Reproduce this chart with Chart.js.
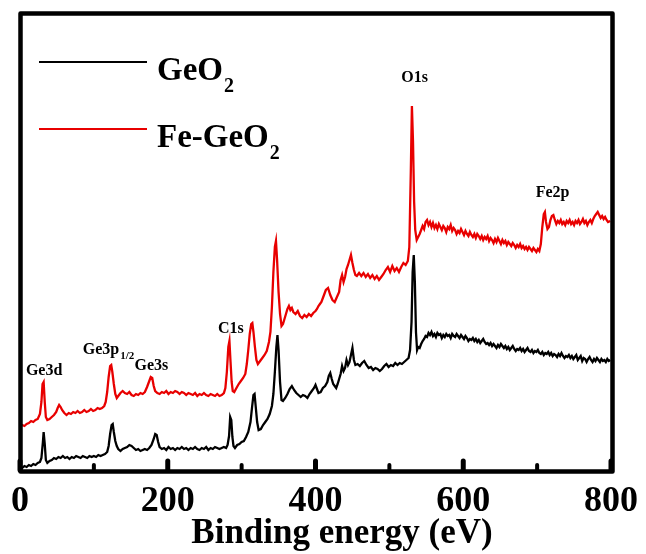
<!DOCTYPE html>
<html>
<head>
<meta charset="utf-8">
<script src="https://cdn.jsdelivr.net/npm/chart.js@4.4.0/dist/chart.umd.min.js"></script>
<style>
  html, body { margin: 0; padding: 0; background: #fff; }
  #wrap { width: 646px; height: 554px; position: relative; }
</style>
</head>
<body>
<div id="wrap"><canvas id="c" width="646" height="554"></canvas></div>
<script>
// ---- data: [binding energy (eV), intensity (a.u.)] ----
const geo2Spectrum = [
  [0,5],[3,4],[6,6],[9,5],[12,7],[15,6],[18,8],[21,7],[24,9],[27,10],[29,14],[31,30],[32,40],[33.5,28],[35,12],[37,9],
  [40,11],[43,12],[46,14],[49,13],[52,15],[55,14],[58,16],[61,14],[64,15],[67,13],[70,15],[73,14],[76,16],[79,15],[82,14],
  [85,16],[88,15],[91,14],[94,16],[97,15],[100,16],[103,15],[106,17],[109,16],[112,17],[115,18],[118,20],[120,26],[122,38],
  [124,47],[125.5,48],[127,40],[129,31],[131,26],[133,23],[136,21],[139,23],[142,24],[145,25],[148,27],[151,26],[154,24],
  [157,22],[160,23],[163,21],[166,22],[169,23],[172,22],[175,24],[178,27],[181,33],[183,38],[185,37],[187,30],[189,25],
  [192,23],[195,24],[198,22],[201,25],[204,23],[207,24],[210,22],[213,24],[216,23],[219,25],[222,23],[225,24],[228,22],
  [231,24],[234,23],[237,25],[240,23],[243,22],[246,24],[249,23],[252,25],[255,22],[258,24],[261,23],[264,25],[267,24],
  [270,23],[273,24],[276,25],[279,24],[281,27],[283,36],[284.5,55],[286,52],[287.5,35],[289,26],[291,24],[294,27],[297,28],
  [300,30],[303,31],[306,35],[309,40],[312,50],[314,64],[316,77],[317.5,78],[319,66],[321,50],[323,42],[326,43],[329,47],
  [332,50],[335,53],[338,58],[341,66],[343,78],[345,100],[347,125],[348.5,137],[350,122],[352,90],[354,72],[356,71],
  [359,74],[362,78],[365,83],[368,86],[371,82],[374,79],[377,77],[380,75],[383,77],[386,76],[389,74],[392,78],[395,81],
  [398,84],[400,87],[402,83],[404,79],[407,80],[410,84],[413,86],[416,90],[418,96],[420,99],[422,93],[424,88],[426,86],
  [428,84],[430,88],[432,93],[434,98],[436,106],[438,101],[440,104],[442,112],[444,107],[446,110],[448,117],[450,124],
  [452,112],[454,107],[457,108],[460,106],[463,109],[466,111],[469,107],[472,104],[475,105],[478,102],[481,104],[484,103],
  [487,101],[490,103],[493,106],[496,108],[499,105],[502,107],[505,106],[508,109],[511,107],[514,109],[517,108],[520,110],
  [523,112],[526,114],[528,122],[530,150],[531.5,200],[533,217],[534.5,190],[536,140],[537.5,122],[539,125],[541,124],
  [543,128],[545,131],[547,133],[549,136],[551,135],[553,139],[555,137],[557,140],[559,136],[561,138],[563,135],[565,139],
  [567,137],[569,138],[571,134],[573,137],[575,135],[577,138],[579,136],[581,137],[583,134],[585,138],[587,136],[589,135],
  [591,138],[593,136],[595,134],[597,137],[599,135],[601,133],[603,136],[605,134],[607,131],[609,133],[611,132],[613,134],
  [615,131],[617,133],[619,130],[621,132],[623,129],[625,131],[627,133],[629,130],[631,128],[633,129],[635,127],[637,129],
  [639,126],[641,128],[643,126],[645,124],[647,127],[649,125],[651,128],[653,126],[655,124],[657,126],[659,123],[661,125],
  [663,122],[665,124],[667,126],[669,123],[671,121],[673,123],[675,122],[677,124],[679,121],[681,123],[683,120],[685,122],
  [687,124],[689,121],[691,120],[693,122],[695,119],[697,121],[699,120],[701,122],[703,119],[705,118],[707,120],[709,117],
  [711,119],[713,118],[715,120],[717,117],[719,119],[721,116],[723,118],[725,117],[727,115],[729,118],[731,116],[733,119],
  [735,116],[737,114],[739,116],[741,115],[743,117],[745,114],[747,116],[749,113],[751,115],[753,117],[755,112],[757,114],
  [759,116],[761,111],[763,114],[765,113],[767,110],[769,113],[771,115],[773,112],[775,110],[777,113],[779,111],[781,114],
  [783,112],[785,110],[787,113],[789,111],[791,112],[793,110],[795,113],[797,111],[799,112]
];

const feGeo2Spectrum = [
  [0,45],[3,47],[6,46],[9,48],[12,49],[15,51],[18,50],[21,52],[24,53],[27,58],[29,70],[30.5,88],[32,90],[33.5,70],[35,55],
  [37,52],[40,53],[43,55],[46,57],[49,60],[51,64],[53,67],[55,65],[57,62],[60,59],[63,57],[66,59],[69,58],[72,60],[75,59],
  [78,61],[81,59],[84,60],[87,62],[90,60],[93,61],[96,63],[99,61],[102,62],[105,64],[108,63],[111,64],[114,66],[116,70],
  [118,80],[120,95],[122,106],[123.5,107],[125,100],[127,88],[129,78],[131,74],[133,76],[136,79],[139,81],[142,79],[145,78],
  [148,80],[151,77],[154,76],[157,78],[160,77],[163,79],[166,78],[169,80],[172,85],[175,91],[177,95],[179,94],[181,86],
  [183,81],[186,79],[189,78],[192,80],[195,79],[198,81],[201,78],[204,80],[207,79],[210,81],[213,80],[216,78],[219,80],
  [222,79],[225,77],[228,79],[231,78],[234,77],[237,79],[240,76],[243,78],[246,77],[249,79],[252,77],[255,76],[258,78],
  [261,77],[264,76],[267,78],[270,76],[273,77],[276,79],[278,84],[280,100],[282,125],[283.5,131],[285,110],[286.5,90],
  [288,81],[290,80],[293,84],[296,88],[299,91],[302,94],[305,98],[307,108],[309,122],[311,138],[313,148],[314.5,149],
  [316,140],[318,125],[320,112],[322,108],[325,111],[328,114],[331,117],[334,121],[337,130],[339,140],[341,165],[343,200],
  [345,225],[346.5,231],[348,212],[350,180],[352,158],[354,146],[356,148],[358,153],[360,158],[362,163],[364,166],[366,162],
  [368,164],[370,160],[373,158],[376,161],[379,156],[382,154],[385,157],[388,155],[391,158],[394,156],[397,159],[400,161],
  [402,163],[404,166],[406,168],[408,170],[411,176],[414,182],[417,184],[420,177],[423,172],[426,170],[429,175],[432,180],
  [434,192],[436,197],[438,190],[440,195],[442,203],[444,207],[446,212],[448,217],[450,209],[452,202],[454,197],[456,196],
  [459,199],[462,196],[465,199],[468,195],[471,198],[474,194],[477,197],[480,193],[483,196],[486,192],[489,195],[492,198],
  [495,202],[498,205],[501,200],[504,206],[507,201],[510,204],[513,200],[516,205],[519,209],[522,207],[525,211],[527,225],
  [529,300],[530.5,366],[532,330],[533.5,270],[535,242],[537,232],[539,235],[541,238],[543,242],[545,246],[547,243],
  [549,250],[551,252],[553,247],[555,250],[557,245],[559,249],[561,244],[563,247],[565,243],[567,248],[569,245],[571,242],
  [573,246],[575,244],[577,240],[579,245],[581,243],[583,247],[585,241],[587,244],[589,242],[591,238],[593,241],[595,239],
  [597,243],[599,240],[601,237],[603,241],[605,238],[607,236],[609,240],[611,237],[613,235],[615,238],[617,234],[619,238],
  [621,236],[623,233],[625,236],[627,232],[629,235],[631,233],[633,236],[635,231],[637,234],[639,232],[641,229],[643,233],
  [645,230],[647,234],[649,231],[651,228],[653,232],[655,229],[657,231],[659,227],[661,230],[663,228],[665,226],[667,229],
  [669,227],[671,224],[673,227],[675,225],[677,228],[679,224],[681,226],[683,223],[685,225],[687,222],[689,225],[691,223],
  [693,221],[695,224],[697,222],[699,220],[701,223],[703,221],[705,228],[707,245],[709,258],[710.5,260],[712,250],[714,243],
  [716,245],[718,252],[720,256],[722,257],[724,252],[726,248],[728,251],[730,249],[732,252],[734,248],[736,250],[738,247],
  [740,251],[742,249],[744,252],[746,248],[748,250],[750,247],[752,251],[754,249],[756,252],[758,248],[760,250],[762,253],
  [764,249],[766,251],[768,247],[770,250],[772,252],[774,249],[776,253],[778,256],[780,258],[782,260],[784,257],[786,254],
  [788,256],[790,253],[792,255],[794,252],[796,250],[799,251]
];

const xTicks = [0, 200, 400, 600, 800];
const xMinorTicks = [100, 300, 500, 700];

const seriesNames = ['GeO2', 'Fe-GeO2'];
const seriesColors = ['#000000', '#e80000'];

// peak labels: [text, subscript, energy (eV) at label left, intensity at baseline]
const peakLabels = [
  ['Ge3d', '', 8, 97],
  ['Ge3p', '1/2', 85, 118],
  ['Ge3s', '', 155, 102],
  ['C1s', '', 268, 139],
  ['O1s', '', 516, 390],
  ['Fe2p', '', 698, 275]
];

function pts(arr) { return arr.map(p => ({ x: p[0], y: p[1] })); }

const FONT = '"Liberation Serif", "Times New Roman", serif';

const decorPlugin = {
  id: 'decor',
  afterDatasetsDraw(chart) {
    const ctx = chart.ctx;
    const xs = chart.scales.x, ys = chart.scales.y;
    const a = chart.chartArea;
    ctx.save();
    // frame
    ctx.strokeStyle = '#000';
    ctx.lineWidth = 4.5;
    ctx.lineJoin = 'round';
    ctx.strokeRect(a.left + 0.5, a.top - 0.5, a.right - a.left + 1, a.bottom - a.top);
    // inward ticks
    ctx.lineCap = 'round';
    xTicks.forEach(v => {
      const px = xs.getPixelForValue(v);
      ctx.lineWidth = 5;
      ctx.beginPath(); ctx.moveTo(px, a.bottom - 2); ctx.lineTo(px, a.bottom - 11); ctx.stroke();
    });
    xMinorTicks.forEach(v => {
      const px = xs.getPixelForValue(v);
      ctx.lineWidth = 4;
      ctx.beginPath(); ctx.moveTo(px, a.bottom - 2); ctx.lineTo(px, a.bottom - 7); ctx.stroke();
    });
    // peak labels
    ctx.fillStyle = '#000';
    ctx.textBaseline = 'alphabetic';
    ctx.textAlign = 'left';
    peakLabels.forEach(p => {
      const px = xs.getPixelForValue(p[2]);
      const py = ys.getPixelForValue(p[3]);
      ctx.font = 'bold 16px ' + FONT;
      ctx.fillText(p[0], px, py);
      if (p[1]) {
        const w = ctx.measureText(p[0]).width;
        ctx.font = 'bold 11px ' + FONT;
        ctx.fillText(p[1], px + w + 1, py + 5);
      }
    });
    // legend
    const legendRows = [62, 129];
    chart.data.datasets.forEach((ds, i) => {
      const y = legendRows[i];
      ctx.strokeStyle = ds.borderColor;
      ctx.lineWidth = 2.2;
      ctx.lineCap = 'butt';
      ctx.beginPath(); ctx.moveTo(39, y); ctx.lineTo(147, y); ctx.stroke();
      const main = ds.label.slice(0, -1), sub = ds.label.slice(-1);
      ctx.fillStyle = '#000';
      ctx.font = 'bold 33px ' + FONT;
      const base = y + 18;
      ctx.fillText(main, 157, base);
      const w = ctx.measureText(main).width;
      ctx.font = 'bold 20px ' + FONT;
      ctx.fillText(sub, 157 + w + 1, base + 12);
    });
    // axis title
    ctx.font = 'bold 35px ' + FONT;
    ctx.textAlign = 'center';
    ctx.fillText('Binding energy (eV)', 342, 543);
    ctx.restore();
  }
};

new Chart(document.getElementById('c'), {
  type: 'line',
  data: {
    datasets: [
      { label: seriesNames[0], data: pts(geo2Spectrum), borderColor: seriesColors[0], borderWidth: 2.3, pointRadius: 0, tension: 0, fill: false },
      { label: seriesNames[1], data: pts(feGeo2Spectrum), borderColor: seriesColors[1], borderWidth: 2.3, pointRadius: 0, tension: 0, fill: false }
    ]
  },
  options: {
    responsive: false,
    animation: false,
    devicePixelRatio: 1,
    layout: { padding: { left: 20, right: 32, top: 14, bottom: 0 } },
    plugins: { legend: { display: false }, tooltip: { enabled: false } },
    scales: {
      x: {
        type: 'linear', min: 0, max: 800,
        grid: { display: false, drawTicks: false },
        border: { display: false },
        ticks: {
          stepSize: 200, padding: 8, color: '#000',
          font: { family: FONT, size: 36, weight: 'bold' },
          maxRotation: 0
        },
        afterFit(s) { s.height = 82; }
      },
      y: { display: false, min: 0, max: 458 }
    }
  },
  plugins: [decorPlugin]
});
</script>
</body>
</html>
